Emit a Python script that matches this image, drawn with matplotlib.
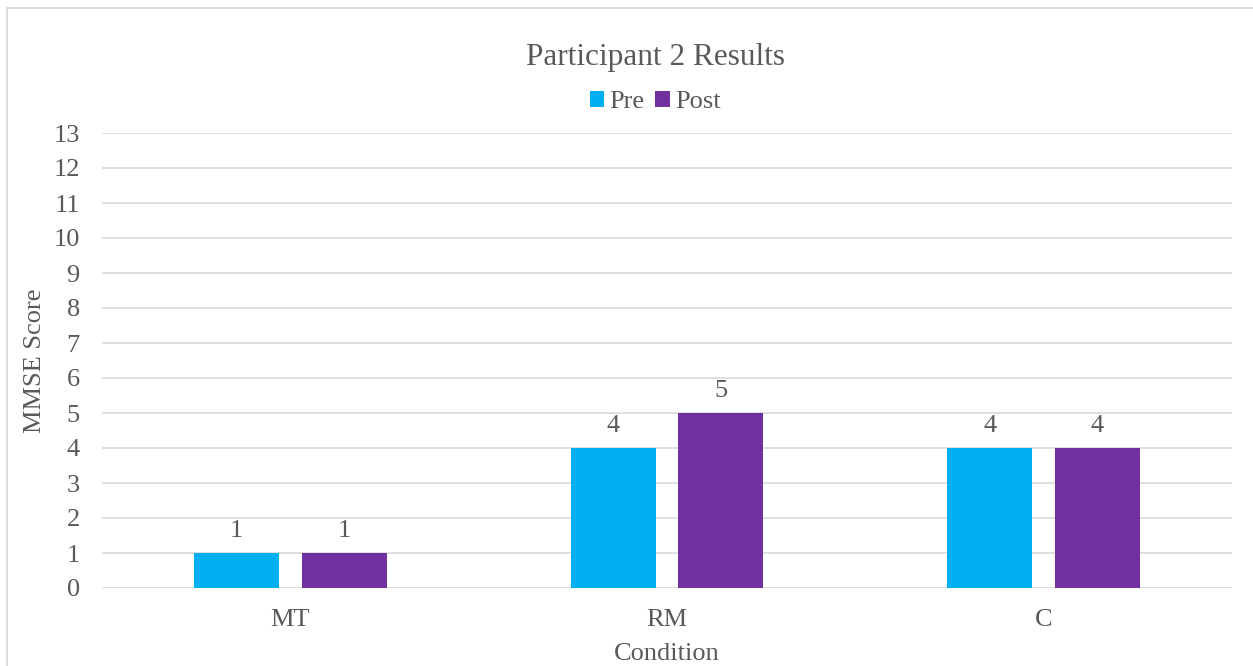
import matplotlib
matplotlib.use("Agg")
import matplotlib.pyplot as plt
import matplotlib.patches as mpatches
import numpy as np

categories = ["MT", "RM", "C"]
pre_scores = [1, 4, 4]
post_scores = [1, 5, 4]
series_names = ["Pre", "Post"]
y_ticks = list(range(0, 14))

TEXT = "#595959"
GRID = "#D9D9D9"
PRE_COLOR = "#00B0F0"
POST_COLOR = "#7030A0"
FS = 19

plt.rcParams["font.family"] = ["Liberation Serif", "DejaVu Serif"]

W, H = 1253, 666
fig = plt.figure(figsize=(W / 100, H / 100), dpi=100)
fig.patch.set_facecolor("white")

# chart frame
frame = mpatches.Rectangle((7 / W, -0.1), 1.2, 1 - 8 / H + 0.1,
                           transform=fig.transFigure, fill=False,
                           edgecolor=GRID, linewidth=1.3)
fig.add_artist(frame)

ax = fig.add_axes([102 / W, 1 - 588 / H, (1232 - 102) / W, (588 - 133) / H])

x = np.arange(len(categories))
width = 0.226
offset = 0.143

bars_pre = ax.bar(x - offset, pre_scores, width, color=PRE_COLOR, label=series_names[0], zorder=3)
bars_post = ax.bar(x + offset, post_scores, width, color=POST_COLOR, label=series_names[1], zorder=3)

for bars, vals in ((bars_pre, pre_scores), (bars_post, post_scores)):
    for b, v in zip(bars, vals):
        ax.annotate(str(v), (b.get_x() + b.get_width() / 2, v),
                    xytext=(0, 8), textcoords="offset points",
                    ha="center", va="bottom", fontsize=FS, color=TEXT)

ax.set_xlim(-0.5, len(categories) - 0.5)
ax.set_ylim(0, 13)
ax.set_yticks(y_ticks)
ax.set_xticks(x)
ax.set_xticklabels(categories)

ax.yaxis.grid(True, color=GRID, linewidth=1.2, zorder=0)
ax.set_axisbelow(True)
for s in ax.spines.values():
    s.set_visible(False)
ax.tick_params(axis="both", length=0, labelsize=FS, labelcolor=TEXT)
ax.tick_params(axis="y", pad=16)
ax.tick_params(axis="x", pad=15)

ax.set_ylabel("MMSE Score", fontsize=FS, color=TEXT, va="center")
ax.yaxis.set_label_coords((35 - 102) / 1130, 0.5)
ax.set_xlabel("Condition", fontsize=FS, color=TEXT, va="center")
ax.xaxis.set_label_coords(0.5, (588 - 654) / 455)

fig.text(656 / W, 1 - 58 / H, "Participant 2 Results", ha="center", va="center",
         fontsize=22.5, color=TEXT)

leg = fig.legend(handles=[bars_pre, bars_post], labels=series_names,
                 loc="center", bbox_to_anchor=(655 / W, 1 - 102 / H),
                 ncol=2, frameon=False, fontsize=FS,
                 handlelength=0.55, handleheight=0.55, handletextpad=0.2,
                 columnspacing=0.4, labelcolor=TEXT)

fig.savefig("out.png", dpi=100, facecolor="white")
